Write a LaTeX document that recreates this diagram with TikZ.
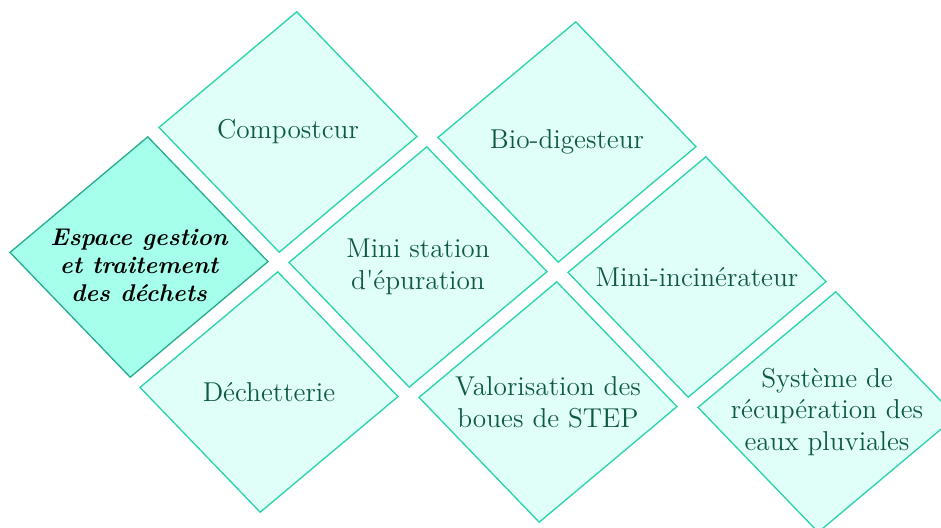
\documentclass[tikz,border=0pt]{standalone}
\usepackage{textcomp}
\usetikzlibrary{calc}
\definecolor{cellline}{RGB}{40,212,172}
\definecolor{cellfill}{RGB}{224,255,249}
\definecolor{celltxt}{RGB}{15,88,68}
\definecolor{hubline}{RGB}{38,172,142}
\definecolor{hubfill}{RGB}{166,255,235}
\tikzset{
  cellbox/.style={draw=cellline, fill=cellfill, line width=0.6pt},
  hubbox/.style={draw=hubline, fill=hubfill, line width=0.6pt},
  celltext/.style={text=celltxt, align=center, font=\fontsize{12.4}{14.5}\selectfont},
  hubtext/.style={text=black, align=center, yshift=-3.6pt, font=\fontsize{11}{12.7}\selectfont\bfseries\itshape}
}
% #1 look, #2 row, #3 column, #4 name, #5 text
\newcommand{\gridcell}[5]{%
  \coordinate (#4-c) at ({139+130*#2+149*#3},{257+135*#2-125*#3});
  \draw[#1box, shift={(#4-c)}] (8.8,-120.2) -- (129,4.6) -- (-8.8,120.2) -- (-129,-4.6) -- cycle;
  \node[#1text] (#4) at (#4-c) {#5};
}
\begin{document}
\begin{tikzpicture}[x=0.4545pt, y=-0.4545pt]
  \useasboundingbox (0,0) rectangle (941,527);
  \gridcell{hub}{0}{0}{espace}{Espace gestion\\ et traitement\\ des déchets}
  \gridcell{cell}{0}{1}{compost}{Compostcur}
  \gridcell{cell}{1}{0}{dechet}{Déchetterie}
  \gridcell{cell}{1}{1}{station}{Mini station\\ d\textquotesingle épuration}
  \gridcell{cell}{1}{2}{biodig}{Bio-digesteur}
  \gridcell{cell}{2}{1}{valor}{Valorisation des\\ boues de STEP}
  \gridcell{cell}{2}{2}{incin}{Mini-incinérateur}
  \gridcell{cell}{3}{2}{pluvial}{Système de\\ récupération des\\ eaux pluviales}
\end{tikzpicture}
\end{document}
